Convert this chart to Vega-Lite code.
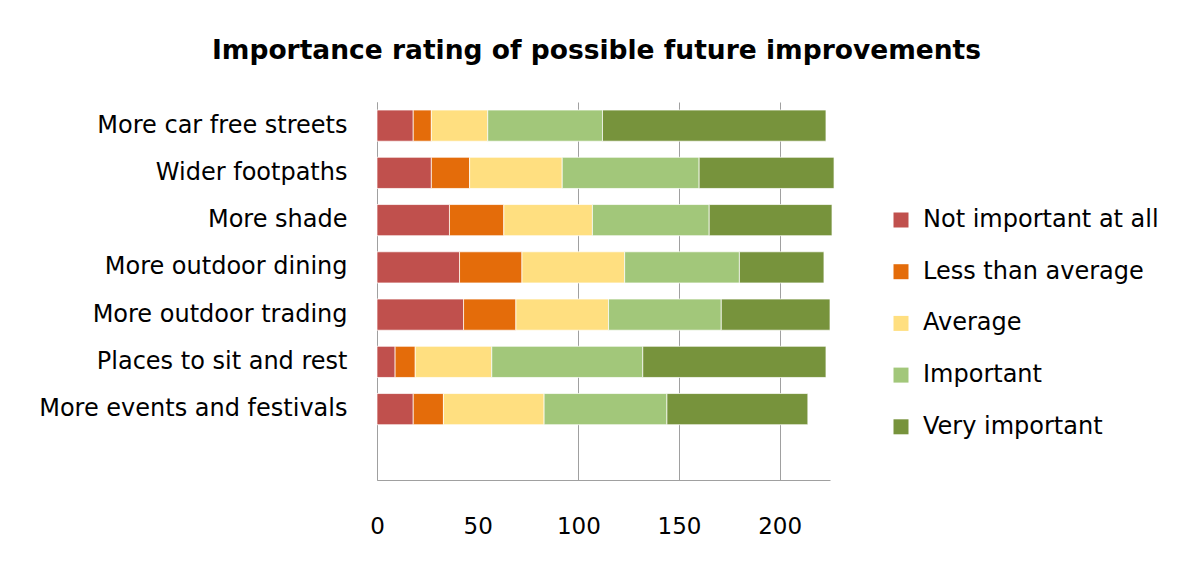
{
  "$schema": "https://vega.github.io/schema/vega-lite/v6.json",
  "width": 453,
  "height": 378,
  "autosize": {"type": "none"},
  "padding": {"left": 377, "top": 102, "right": 349, "bottom": 85},
  "background": "white",
  "title": {"text": "Importance rating of possible future improvements", "font": "DejaVu Sans", "fontSize": 26.5, "fontWeight": "bold", "color": "black", "anchor": "middle", "offset": 38, "dx": -7},
  "data": {"values": [
    {"item": "More car free streets", "rating": "Not important at all", "count": 18},
    {"item": "More car free streets", "rating": "Less than average", "count": 9},
    {"item": "More car free streets", "rating": "Average", "count": 28},
    {"item": "More car free streets", "rating": "Important", "count": 57},
    {"item": "More car free streets", "rating": "Very important", "count": 111},
    {"item": "Wider footpaths", "rating": "Not important at all", "count": 27},
    {"item": "Wider footpaths", "rating": "Less than average", "count": 19},
    {"item": "Wider footpaths", "rating": "Average", "count": 46},
    {"item": "Wider footpaths", "rating": "Important", "count": 68},
    {"item": "Wider footpaths", "rating": "Very important", "count": 67},
    {"item": "More shade", "rating": "Not important at all", "count": 36},
    {"item": "More shade", "rating": "Less than average", "count": 27},
    {"item": "More shade", "rating": "Average", "count": 44},
    {"item": "More shade", "rating": "Important", "count": 58},
    {"item": "More shade", "rating": "Very important", "count": 61},
    {"item": "More outdoor dining", "rating": "Not important at all", "count": 41},
    {"item": "More outdoor dining", "rating": "Less than average", "count": 31},
    {"item": "More outdoor dining", "rating": "Average", "count": 51},
    {"item": "More outdoor dining", "rating": "Important", "count": 57},
    {"item": "More outdoor dining", "rating": "Very important", "count": 42},
    {"item": "More outdoor trading", "rating": "Not important at all", "count": 43},
    {"item": "More outdoor trading", "rating": "Less than average", "count": 26},
    {"item": "More outdoor trading", "rating": "Average", "count": 46},
    {"item": "More outdoor trading", "rating": "Important", "count": 56},
    {"item": "More outdoor trading", "rating": "Very important", "count": 54},
    {"item": "Places to sit and rest", "rating": "Not important at all", "count": 9},
    {"item": "Places to sit and rest", "rating": "Less than average", "count": 10},
    {"item": "Places to sit and rest", "rating": "Average", "count": 38},
    {"item": "Places to sit and rest", "rating": "Important", "count": 75},
    {"item": "Places to sit and rest", "rating": "Very important", "count": 91},
    {"item": "More events and festivals", "rating": "Not important at all", "count": 18},
    {"item": "More events and festivals", "rating": "Less than average", "count": 15},
    {"item": "More events and festivals", "rating": "Average", "count": 50},
    {"item": "More events and festivals", "rating": "Important", "count": 61},
    {"item": "More events and festivals", "rating": "Very important", "count": 70}
  ]},
  "transform": [
    {"calculate": "indexof(['Not important at all', 'Less than average', 'Average', 'Important', 'Very important'], datum.rating)", "as": "rank"}
  ],
  "mark": {"type": "bar", "stroke": "white", "strokeWidth": 1, "strokeOpacity": 0.7},
  "encoding": {
    "y": {
      "field": "item", "type": "nominal",
      "scale": {"domain": ["More car free streets", "Wider footpaths", "More shade", "More outdoor dining", "More outdoor trading", "Places to sit and rest", "More events and festivals", " "], "paddingInner": 0.34, "paddingOuter": 0.17},
      "axis": {"title": null, "ticks": false, "grid": false, "domainColor": "#A0A0A0", "labelFont": "DejaVu Sans", "labelFontSize": 24, "labelColor": "black", "labelPadding": 30, "labelLimit": 400}
    },
    "x": {
      "field": "count", "type": "quantitative", "stack": "zero",
      "scale": {"domain": [0, 225], "nice": false},
      "axis": {"title": null, "values": [0, 50, 100, 150, 200], "ticks": false, "grid": true, "gridColor": "#A0A0A0", "gridOpacity": {"condition": {"test": "datum.value === 50", "value": 0}, "value": 1}, "domainColor": "#A0A0A0", "labelFont": "DejaVu Sans", "labelFontSize": 23, "labelColor": "black", "labelPadding": 35, "labelFlush": false}
    },
    "order": {"field": "rank", "type": "quantitative"},
    "color": {
      "field": "rating", "type": "nominal",
      "sort": ["Not important at all", "Less than average", "Average", "Important", "Very important"],
      "scale": {"domain": ["Not important at all", "Less than average", "Average", "Important", "Very important"], "range": ["#C0504D", "#E46C0A", "#FFDF80", "#A2C77A", "#77933C"]},
      "legend": {"orient": "none", "legendX": 512, "legendY": 106, "title": null, "symbolType": "square", "symbolSize": 225, "symbolStrokeWidth": 0, "labelFont": "DejaVu Sans", "labelFontSize": 24, "labelColor": "black", "rowPadding": 27.7, "labelOffset": 10, "labelLimit": 400}
    }
  },
  "config": {"view": {"stroke": null}}
}
